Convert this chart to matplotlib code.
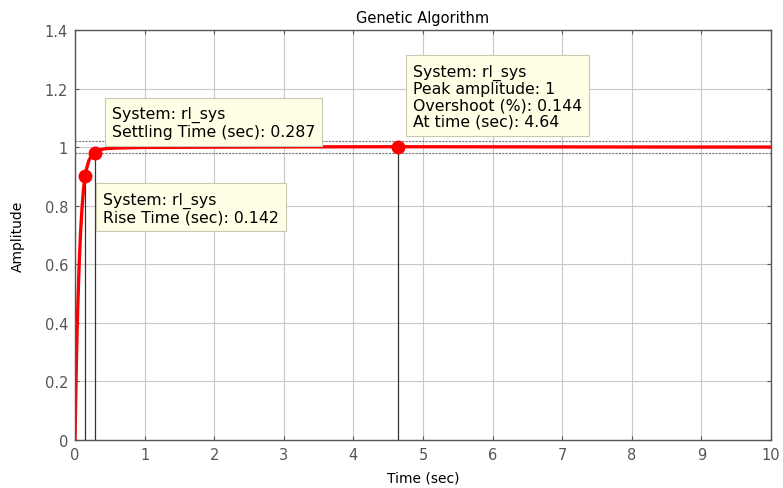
import numpy as np
import matplotlib
matplotlib.use("Agg")
import matplotlib.pyplot as plt

plt.rcParams['font.family'] = ['DejaVu Sans']

# step response samples
t = np.array([0, 0.005, 0.01, 0.02, 0.03, 0.04, 0.06, 0.08, 0.1, 0.12, 0.142,
              0.17, 0.2, 0.24, 0.287, 0.35, 0.45, 0.6, 0.8, 1.0, 1.5, 2.0,
              3.0, 4.0, 4.64, 5.5, 7.0, 8.5, 10.0])
amp = np.array([0, 0.07, 0.14, 0.27, 0.37, 0.46, 0.60, 0.71, 0.79, 0.85, 0.90,
                0.93, 0.955, 0.972, 0.985, 0.991, 0.995, 0.997, 0.998, 0.999,
                0.9995, 1.0, 1.0008, 1.0012, 1.0014, 1.0012, 1.0008, 1.0004, 1.0002])

rise_t, rise_y = 0.142, 0.90
settle_t, settle_y = 0.287, 0.98
peak_t, peak_y = 4.64, 1.0014
settle_band = [0.98, 1.02]

title = "Genetic Algorithm"
box_settle = "System: rl_sys\nSettling Time (sec): 0.287"
box_rise = "System: rl_sys\nRise Time (sec): 0.142"
box_peak = "System: rl_sys\nPeak amplitude: 1\nOvershoot (%): 0.144\nAt time (sec): 4.64"

fig = plt.figure(figsize=(7.83, 4.89), dpi=100)
ax = fig.add_axes([0.0958, 0.0982, 0.8889, 0.8384])

ax.set_xlim(0, 10)
ax.set_ylim(0, 1.4)
ax.set_xticks(np.arange(0, 11, 1))
ax.set_yticks([0, 0.2, 0.4, 0.6, 0.8, 1.0, 1.2, 1.4])
ax.set_yticklabels(["0", "0.2", "0.4", "0.6", "0.8", "1", "1.2", "1.4"])
ax.grid(True, color="#c8c8c8", linewidth=0.8)
ax.set_axisbelow(True)

for s in ax.spines.values():
    s.set_color("#555555")
    s.set_linewidth(1.0)
ax.tick_params(direction="in", length=3, color="#555555", labelcolor="#555555",
               labelsize=10.5, top=True, right=True, pad=5)

# settling band
for yb in settle_band:
    ax.axhline(yb, color="#777777", linewidth=0.8, linestyle=(0, (2, 1)))

# characteristic lines
ax.plot([rise_t, rise_t], [0, rise_y], color="#333333", linewidth=0.9)
ax.plot([settle_t, settle_t], [0, settle_y], color="#333333", linewidth=0.9)
ax.plot([peak_t, peak_t], [0, peak_y], color="#333333", linewidth=0.9)

ax.plot(t, amp, color="red", linewidth=2.4, solid_joinstyle="round")
ax.plot([rise_t, settle_t, peak_t], [rise_y, settle_y, peak_y], "o",
        color="red", markersize=9)

bb = dict(boxstyle="square,pad=0.45", fc="#ffffe6", ec="#c8c8b4", linewidth=0.8)
ax.text(0.53, 1.14, box_settle, ha="left", va="top", fontsize=11.3,
        linespacing=1.1, bbox=bb)
ax.text(0.40, 0.848, box_rise, ha="left", va="top", fontsize=11.3,
        linespacing=1.1, bbox=bb)
ax.text(4.86, 1.285, box_peak, ha="left", va="top", fontsize=11.3,
        linespacing=1.1, bbox=bb)

ax.set_title(title, fontsize=10.5, pad=6)
ax.set_xlabel("Time (sec)", fontsize=10, labelpad=6)
ax.set_ylabel("Amplitude", fontsize=10, labelpad=14)

fig.savefig("out.png", dpi=100)
